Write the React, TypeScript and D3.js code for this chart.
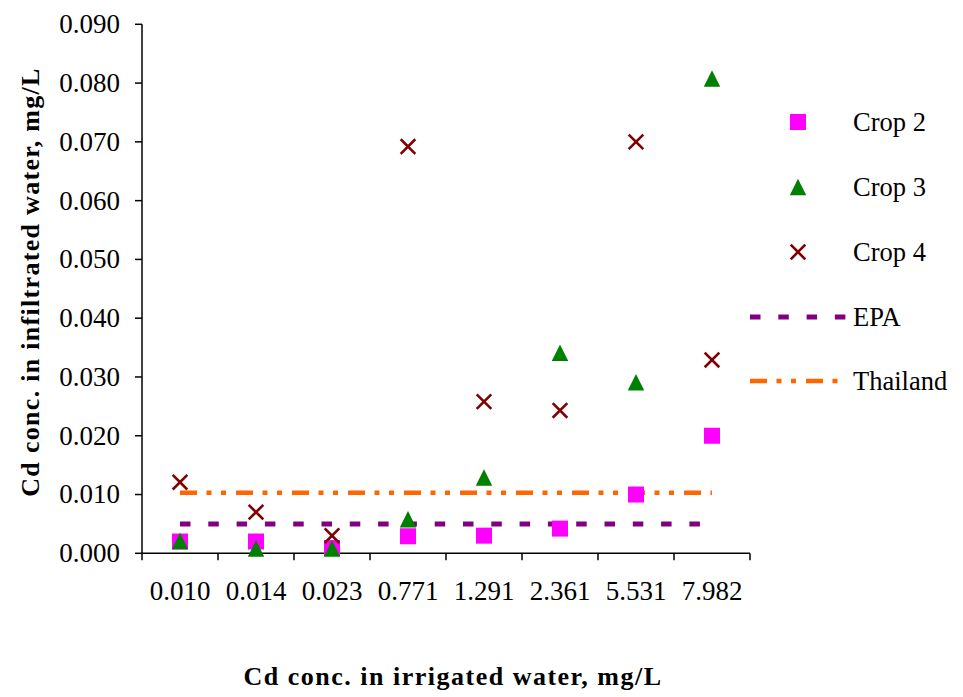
import React from "react";
import * as d3 from "d3";

// Irrigation water Cd concentration categories (mg/L)
const categories = ["0.010", "0.014", "0.023", "0.771", "1.291", "2.361", "5.531", "7.982"];

// Cd concentration in infiltrated water (mg/L) per crop
const crop2 = [0.002, 0.002, 0.0009, 0.0029, 0.003, 0.0042, 0.010, 0.020];
const crop3 = [0.0021, 0.0008, 0.0008, 0.0058, 0.0129, 0.0341, 0.0291, 0.0808];
const crop4 = [0.0121, 0.007, 0.003, 0.0692, 0.0258, 0.0243, 0.070, 0.0329];

// Standard limits
const epaLimit = 0.005;
const thailandLimit = 0.0103;

const yTicks = [0, 0.01, 0.02, 0.03, 0.04, 0.05, 0.06, 0.07, 0.08, 0.09];

const W = 963;
const H = 697;
const FONT = "'Liberation Serif', 'Times New Roman', serif";

const COL_C2 = "#ff00ff";
const COL_C3 = "#008000";
const COL_C4 = "#800000";
const COL_EPA = "#800080";
const COL_TH = "#ff6600";

const EPA_DASH = "10.5,17.8";
const TH_DASH = "17,9.5,5,9.5,5,10";

function Square({ cx, cy }: { cx: number; cy: number }) {
  const s = 16;
  return <rect x={cx - s / 2} y={cy - s / 2} width={s} height={s} fill={COL_C2} />;
}

function Triangle({ cx, cy }: { cx: number; cy: number }) {
  const s = 16.5;
  const p = `${cx},${cy - s / 2} ${cx + s / 2},${cy + s / 2} ${cx - s / 2},${cy + s / 2}`;
  return <polygon points={p} fill={COL_C3} />;
}

function Cross({ cx, cy }: { cx: number; cy: number }) {
  const h = 7.3;
  return (
    <g stroke={COL_C4} strokeWidth={2.6}>
      <line x1={cx - h} y1={cy - h} x2={cx + h} y2={cy + h} />
      <line x1={cx - h} y1={cy + h} x2={cx + h} y2={cy - h} />
    </g>
  );
}

export default function App() {
  const left = 142;
  const right = 750;
  const top = 24.3;
  const bottom = 553.3;

  const x = d3.scaleBand<string>().domain(categories).range([left, right]).padding(0);
  const y = d3.scaleLinear().domain([0, 0.09]).range([bottom, top]);
  const cx = (c: string) => (x(c) as number) + x.bandwidth() / 2;

  const firstX = cx(categories[0]);
  const lastX = cx(categories[categories.length - 1]);

  const boundaries = categories.map((c) => x(c) as number).concat([right]);

  const legendMarkX = 798;
  const legendTextX = 853;
  const legendRows = [122, 187, 252, 317, 381];

  return (
    <svg
      width={W}
      height={H}
      style={{ position: "absolute", left: 0, top: 0, background: "#fff" }}
      fontFamily={FONT}
    >
      {/* standard limit lines */}
      <line x1={firstX} x2={lastX} y1={y(epaLimit)} y2={y(epaLimit)} stroke={COL_EPA} strokeWidth={5} strokeDasharray={EPA_DASH} />
      <line x1={firstX} x2={lastX} y1={y(thailandLimit)} y2={y(thailandLimit)} stroke={COL_TH} strokeWidth={4.5} strokeDasharray={TH_DASH} />

      {/* axes */}
      <g stroke="#000" strokeWidth={1.5}>
        <line x1={left} x2={left} y1={top} y2={bottom} />
        <line x1={left} x2={right} y1={bottom} y2={bottom} />
        {yTicks.map((t) => (
          <line key={"yt" + t} x1={left - 7} x2={left} y1={y(t)} y2={y(t)} />
        ))}
        {boundaries.map((b, i) => (
          <line key={"xt" + i} x1={b} x2={b} y1={bottom} y2={bottom + 7} />
        ))}
      </g>

      {yTicks.map((t) => (
        <text key={"yl" + t} x={120} y={y(t)} dy="0.33em" textAnchor="end" fontSize={27} fill="#000">
          {d3.format(".3f")(t)}
        </text>
      ))}
      {categories.map((c) => (
        <text key={"xl" + c} x={cx(c)} y={600} textAnchor="middle" fontSize={27} fill="#000">
          {c}
        </text>
      ))}

      {/* axis titles */}
      <text x={453} y={685} textAnchor="middle" fontSize={26} fontWeight="bold" letterSpacing={1.5} fill="#000">
        Cd conc. in irrigated water, mg/L
      </text>
      <text
        transform={`translate(39,282) rotate(-90)`}
        textAnchor="middle"
        fontSize={26}
        fontWeight="bold"
        letterSpacing={1.3}
        fill="#000"
      >
        Cd conc. in infiltrated water, mg/L
      </text>

      {/* data markers */}
      {categories.map((c, i) => (
        <Square key={"c2" + c} cx={cx(c)} cy={y(crop2[i])} />
      ))}
      {categories.map((c, i) => (
        <Triangle key={"c3" + c} cx={cx(c)} cy={y(crop3[i])} />
      ))}
      {categories.map((c, i) => (
        <Cross key={"c4" + c} cx={cx(c)} cy={y(crop4[i])} />
      ))}

      {/* legend */}
      <Square cx={legendMarkX} cy={legendRows[0]} />
      <Triangle cx={legendMarkX} cy={legendRows[1]} />
      <Cross cx={legendMarkX} cy={legendRows[2]} />
      <line x1={750} x2={846} y1={legendRows[3]} y2={legendRows[3]} stroke={COL_EPA} strokeWidth={5} strokeDasharray={EPA_DASH} />
      <line x1={750} x2={838} y1={legendRows[4]} y2={legendRows[4]} stroke={COL_TH} strokeWidth={4.5} strokeDasharray={TH_DASH} />
      {["Crop 2", "Crop 3", "Crop 4", "EPA", "Thailand"].map((label, i) => (
        <text key={label} x={legendTextX} y={legendRows[i]} dy="0.33em" fontSize={26.5} fill="#000">
          {label}
        </text>
      ))}
    </svg>
  );
}
